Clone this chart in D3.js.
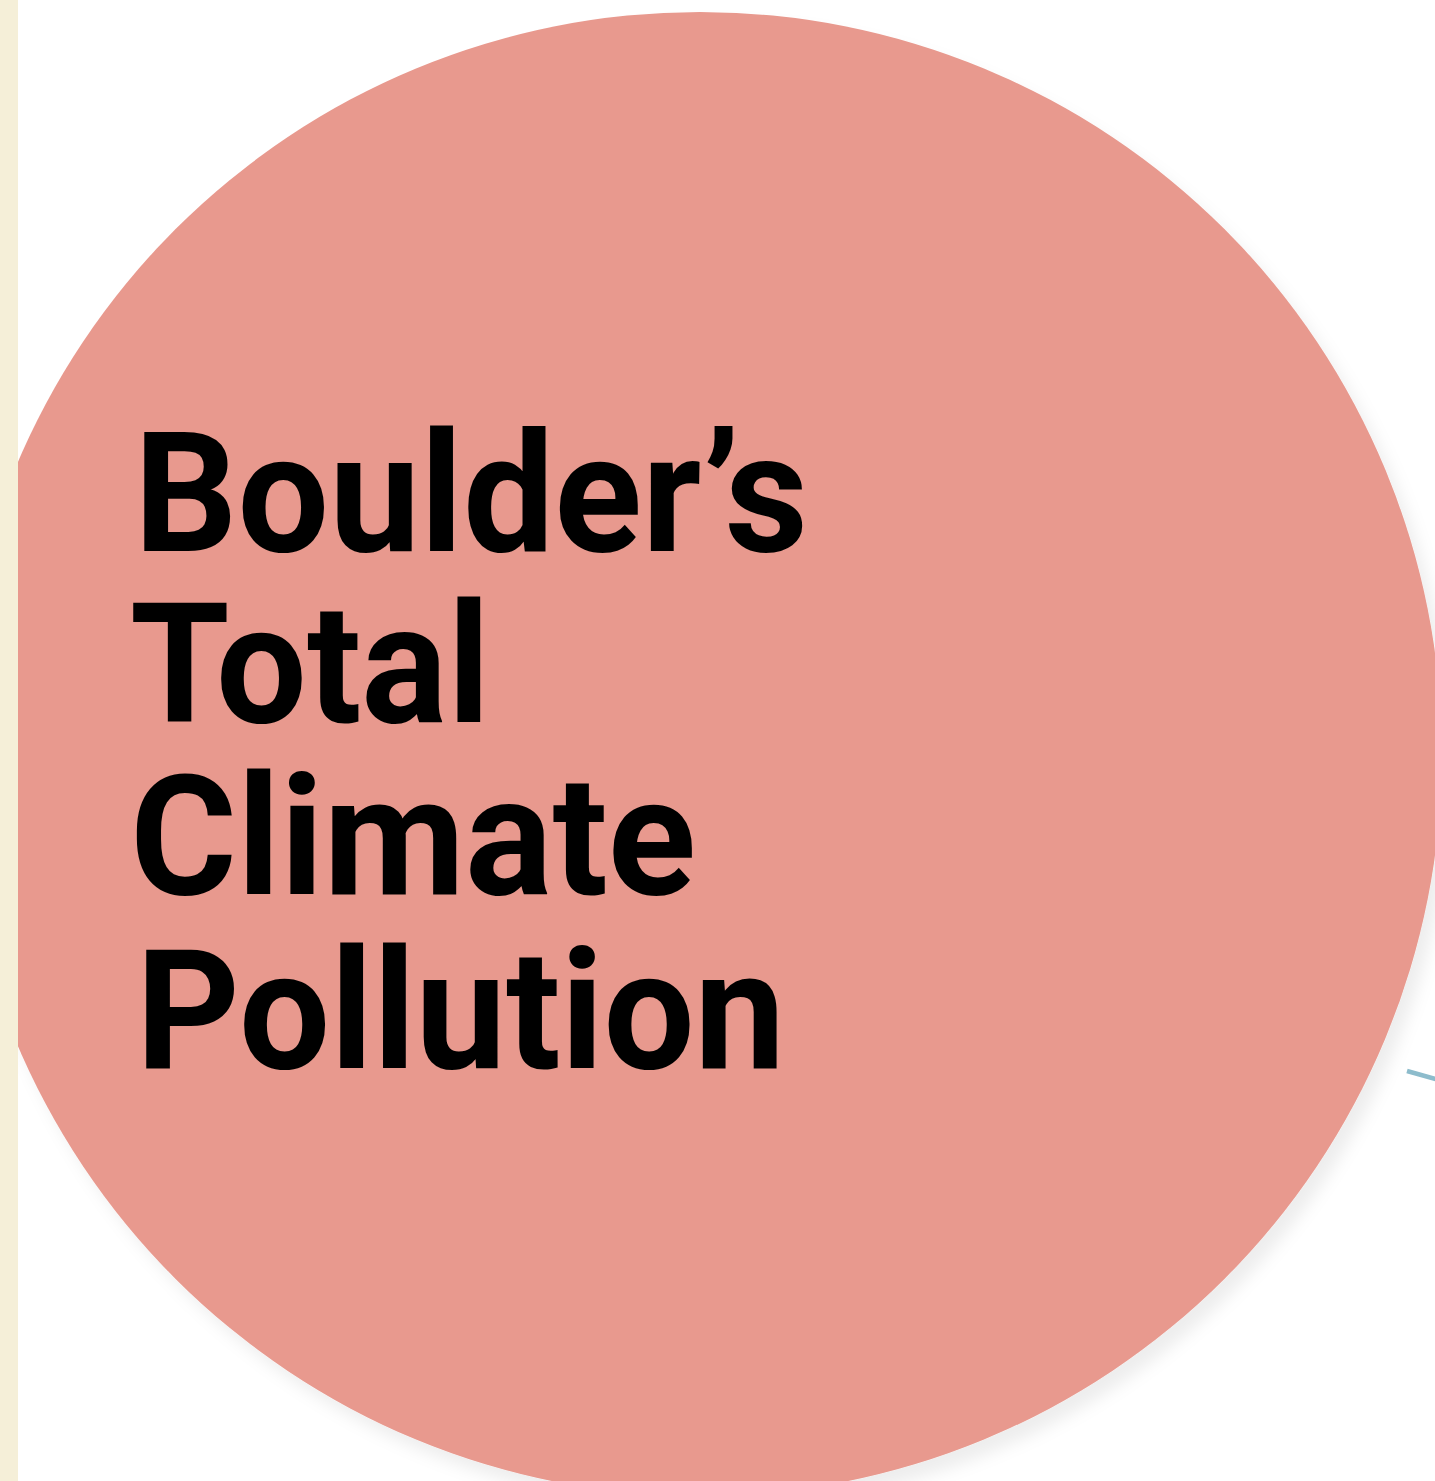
<!DOCTYPE html>
<html>
<head>
<meta charset="utf-8">
<script src="https://cdn.jsdelivr.net/npm/d3@7"></script>
<style>
  html, body { margin: 0; padding: 0; background: #ffffff; overflow: hidden; }
  svg { display: block; }
</style>
</head>
<body>
<svg id="chart" width="1435" height="1481"></svg>
<script>
// Bubble data: one bubble, its relative size and its label lines
const bubbleNames = ["Boulder’s Total Climate Pollution"];
const bubbleShare = [1.0];
const titleLines = ["Boulder’s", "Total", "Climate", "Pollution"];

const W = 1435, H = 1481;
const svg = d3.select("#chart");

// area-true radius scale
const rScale = d3.scaleSqrt().domain([0, 1]).range([0, 742]);
const cx = 700, cy = 754;

const defs = svg.append("defs");
const f = defs.append("filter").attr("id", "soft-shadow")
  .attr("x", "-10%").attr("y", "-10%").attr("width", "120%").attr("height", "120%");
f.append("feDropShadow")
  .attr("dx", 9).attr("dy", 12).attr("stdDeviation", 8)
  .attr("flood-color", "#000").attr("flood-opacity", 0.07);

// connector towards the next bubble
svg.append("line")
  .attr("x1", 1407).attr("y1", 1071)
  .attr("x2", 1460).attr("y2", 1086)
  .attr("stroke", "#8dbccc").attr("stroke-width", 4.5);

svg.selectAll("circle.bubble")
  .data(bubbleShare)
  .join("circle")
  .attr("class", "bubble")
  .attr("cx", cx).attr("cy", cy)
  .attr("r", d => rScale(d))
  .attr("fill", "#e8998e")
  .attr("filter", "url(#soft-shadow)");

// left page strip
svg.append("rect").attr("x", 0).attr("y", 0).attr("width", 18).attr("height", H)
  .attr("fill", "#f5efd8");

// title inside the bubble, set as one multi-line text block
const lineX = [134, 130, 130, 136];
const lineY = [551, 722, 894, 1068];
const lineW = [674, 360, 566, 649];
const title = svg.append("text")
  .attr("font-family", "Roboto, 'Liberation Sans', sans-serif")
  .attr("font-weight", 700)
  .attr("font-size", 167)
  .attr("fill", "#000");
title.selectAll("tspan")
  .data(titleLines)
  .join("tspan")
  .attr("x", (d, i) => lineX[i])
  .attr("y", (d, i) => lineY[i])
  .attr("textLength", (d, i) => lineW[i])
  .attr("lengthAdjust", "spacingAndGlyphs")
  .text(d => d);
</script>
</body>
</html>
